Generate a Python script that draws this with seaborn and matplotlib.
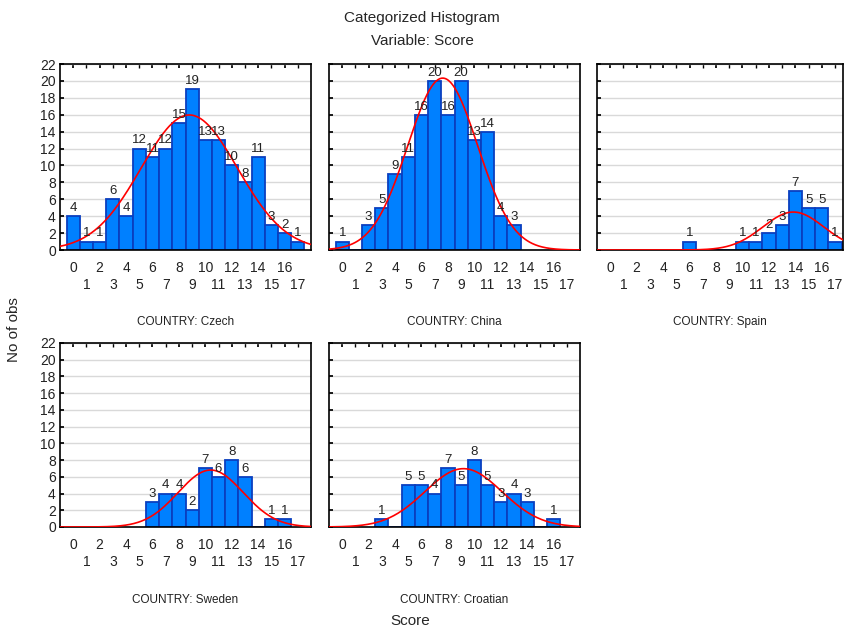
import matplotlib
matplotlib.use("Agg")
import matplotlib.pyplot as plt
import numpy as np
import pandas as pd
import seaborn as sns

sns.set_theme(style="white")
plt.rcParams['font.family'] = ['Liberation Sans', 'DejaVu Sans']

# Score bins 0..17 and counts per country
scores = list(range(18))
czech = [4, 1, 1, 6, 4, 12, 11, 12, 15, 19, 13, 13, 10, 8, 11, 3, 2, 1]
china = [1, 0, 3, 5, 9, 11, 16, 20, 16, 20, 13, 14, 4, 3, 0, 0, 0, 0]
spain = [0, 0, 0, 0, 0, 0, 1, 0, 0, 0, 1, 1, 2, 3, 7, 5, 5, 1]
sweden = [0, 0, 0, 0, 0, 0, 3, 4, 4, 2, 7, 6, 8, 6, 0, 1, 1, 0]
croatian = [0, 0, 0, 1, 0, 5, 5, 4, 7, 5, 8, 5, 3, 4, 3, 0, 1, 0]
countries = ['Czech', 'China', 'Spain', 'Sweden', 'Croatian']
counts = [czech, china, spain, sweden, croatian]

W, H = 844, 627
fig = plt.figure(figsize=(W / 100, H / 100), dpi=100)

# panel boxes in pixels: left, right, top, bottom, xmax
boxes = [
    (60, 311, 64, 250, 18.0),
    (329, 580, 64, 250, 18.0),
    (597, 843, 64, 250, 17.6),
    (60, 311, 343, 527, 18.0),
    (329, 580, 343, 527, 18.0),
]

even = [s for s in scores if s % 2 == 0]
odd = [s for s in scores if s % 2 == 1]

for idx, (country, cnt) in enumerate(zip(countries, counts)):
    l, r, t, b, xmax = boxes[idx]
    ax = fig.add_axes([l / W, 1 - b / H, (r - l) / W, (b - t) / H])
    df = pd.DataFrame({'score': scores, 'n': cnt})
    df = df[df['n'] > 0]
    sns.histplot(data=df, x='score', weights='n', discrete=True, ax=ax,
                 color='#0080FF', edgecolor='#0A3FBF', linewidth=1.3, alpha=1,
                 zorder=2)

    # fitted normal curve
    v = np.array(scores)
    c = np.array(cnt)
    N = c.sum()
    mu = (v * c).sum() / N
    sd = np.sqrt(((v - mu) ** 2 * c).sum() / (N - 1))
    xs = np.linspace(-1, xmax, 300)
    ys = N / (sd * np.sqrt(2 * np.pi)) * np.exp(-0.5 * ((xs - mu) / sd) ** 2)
    sns.lineplot(x=xs, y=ys, ax=ax, color='red', linewidth=1.2, zorder=3)

    for s, n in zip(scores, cnt):
        if n > 0:
            ax.annotate(str(n), (s, n), textcoords='offset points', xytext=(0, 1.5),
                        ha='center', va='bottom', fontsize=9.5, color='#222222',
                        zorder=4)

    ax.set_xlim(-1, xmax)
    ax.set_ylim(0, 22)
    ax.set_yticks(range(0, 23, 2))
    # even scores on the first row, odd scores on a second row
    ax.set_xticks(even)
    ax.set_xticklabels([str(s) for s in even], fontsize=10, color='#222222')
    ax.set_xticks(odd, minor=True)
    ax.set_xticklabels([str(s) for s in odd], minor=True, fontsize=10, color='#222222')
    ax.yaxis.grid(True, color='#D9D9D9', linewidth=1)
    ax.set_axisbelow(True)
    ax.tick_params(axis='x', which='major', top=True, bottom=False, direction='in',
                   length=3, color='black', pad=8)
    ax.tick_params(axis='x', which='minor', top=True, bottom=False, direction='in',
                   length=3, color='black', pad=20)
    ax.tick_params(axis='y', direction='in', length=3, left=True, labelsize=10,
                   labelcolor='#222222', color='black', pad=3)
    if idx not in (0, 3):
        ax.set_yticklabels([])
    ax.set_xlabel('')
    ax.set_ylabel('')
    for sp in ax.spines.values():
        sp.set_color('black')
        sp.set_linewidth(1.2)

    yl = 322 if idx < 3 else 600
    fig.text((l + r) / 2 / W, 1 - yl / H, f'COUNTRY: {country}', ha='center', va='center',
             fontsize=8.5, color='#222222')

fig.text(422 / W, 1 - 18 / H, 'Categorized Histogram', ha='center', va='center', fontsize=11)
fig.text(422 / W, 1 - 41 / H, 'Variable: Score', ha='center', va='center', fontsize=11)
fig.text(14 / W, 1 - 330 / H, 'No of obs', ha='center', va='center', rotation=90, fontsize=11)
fig.text(410 / W, 1 - 621 / H, 'Score', ha='center', va='center', fontsize=11)

fig.savefig('out.png', dpi=100)
